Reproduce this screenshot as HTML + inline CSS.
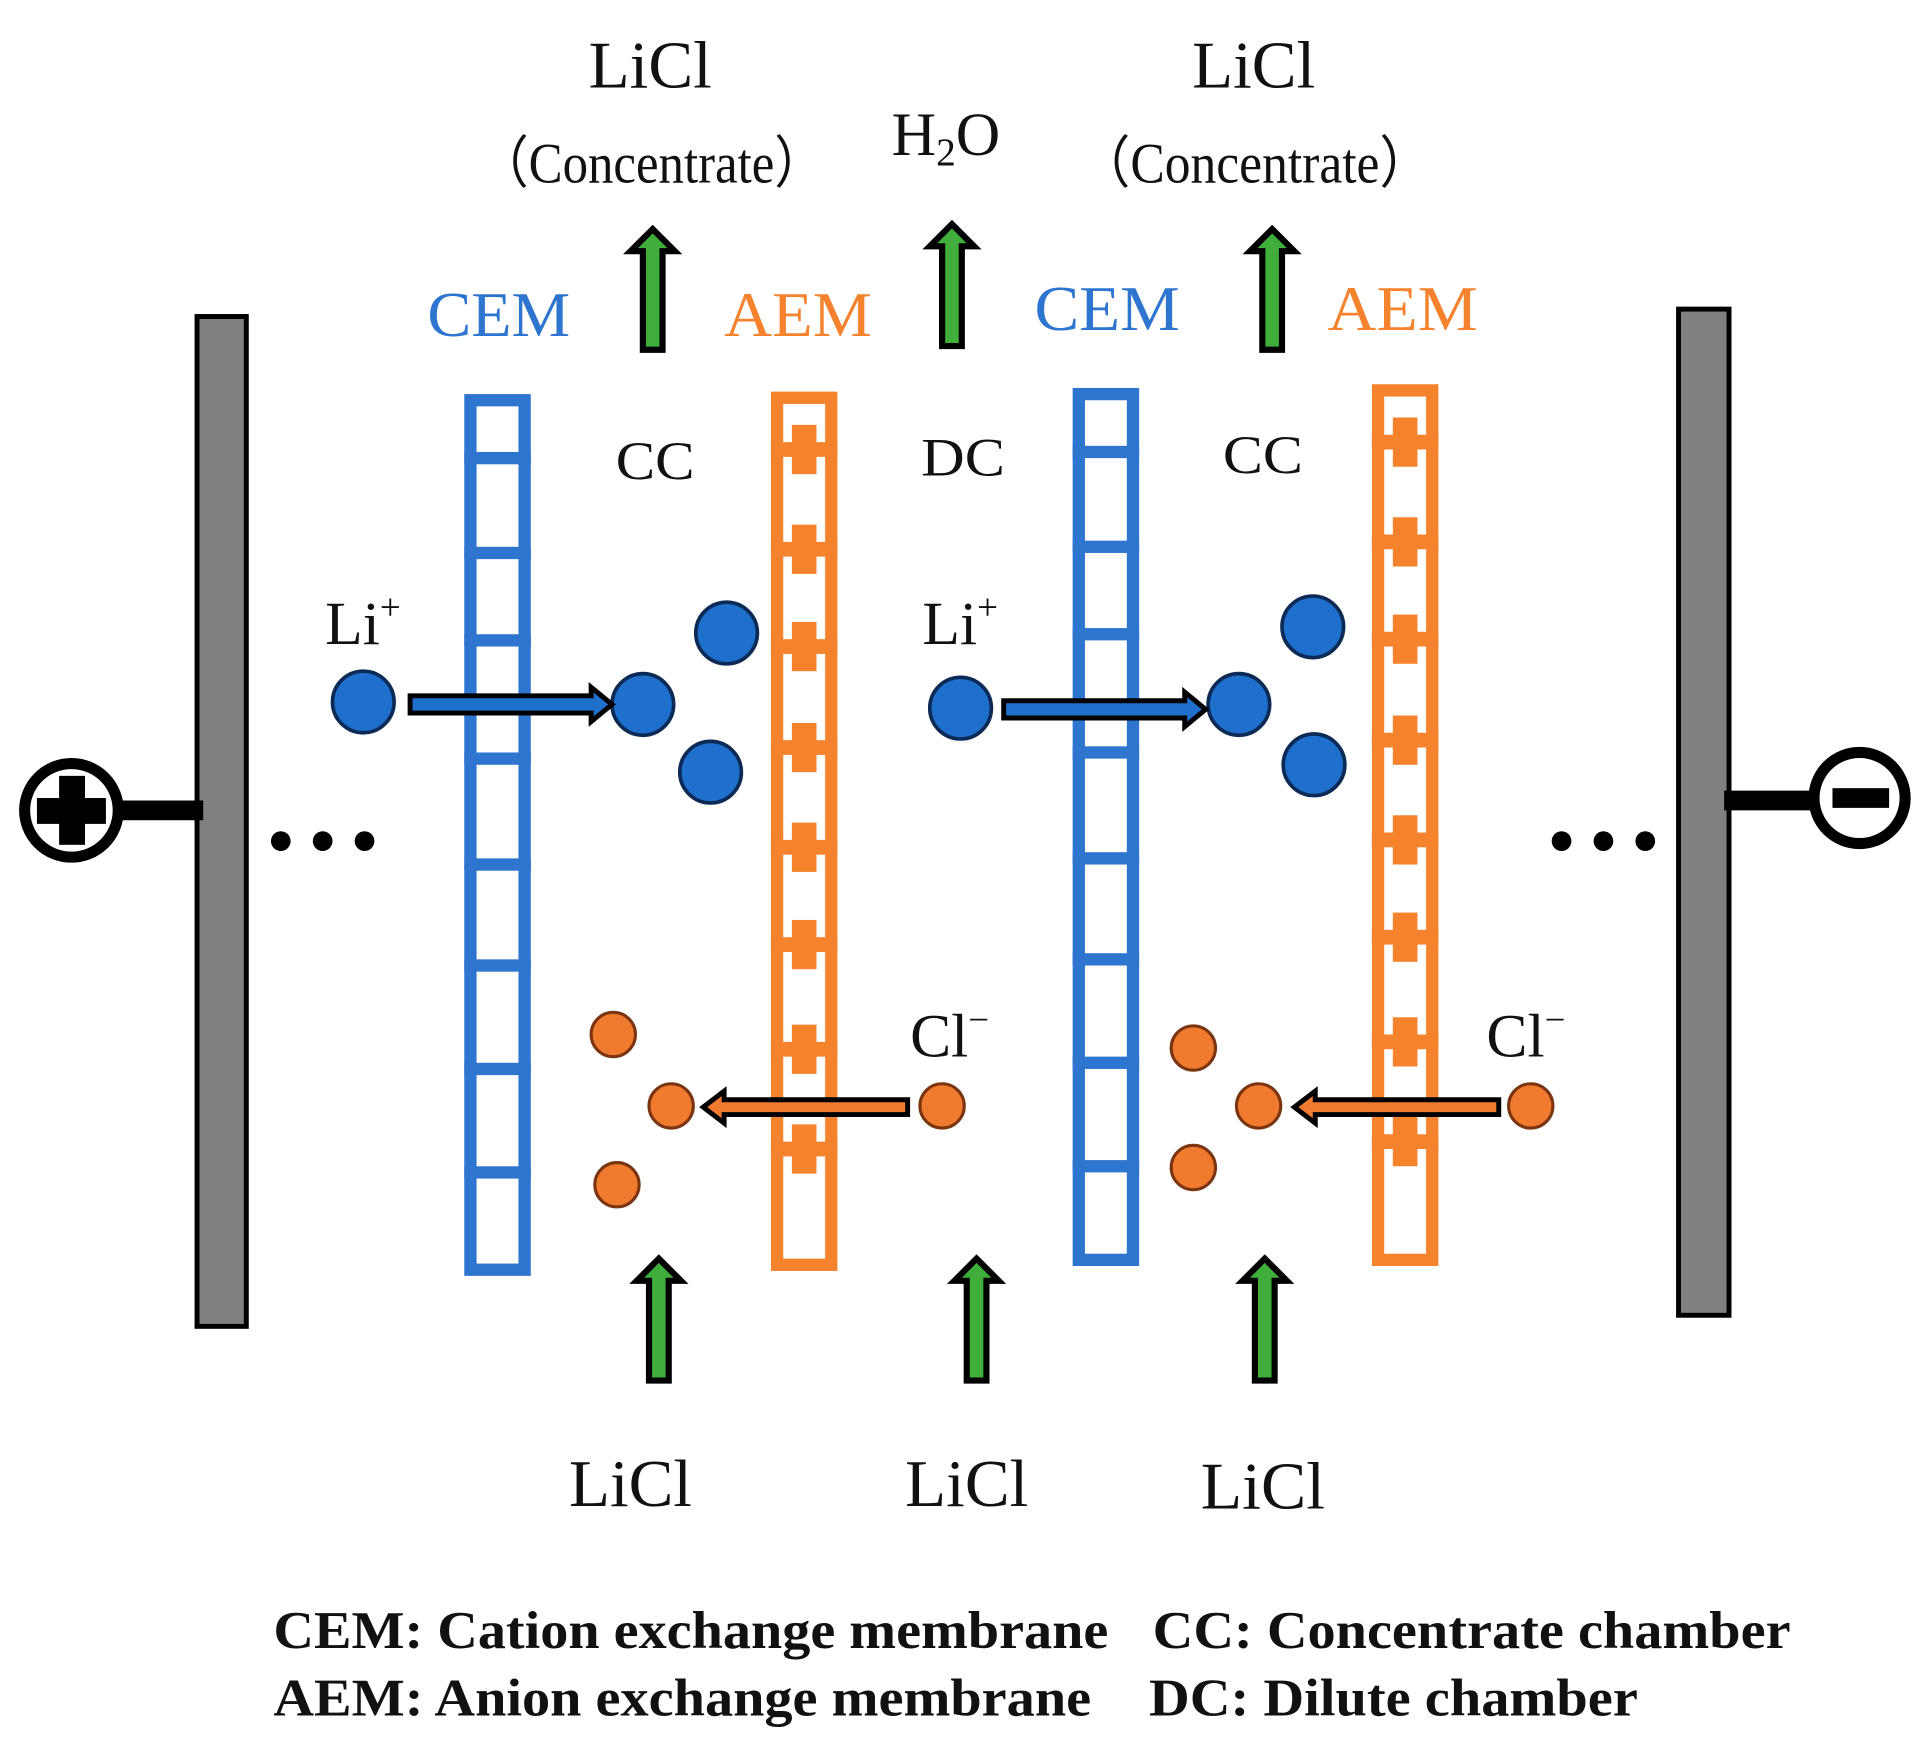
<!DOCTYPE html>
<html><head><meta charset="utf-8"><style>
html,body{margin:0;padding:0;background:#fff;}
svg{display:block;}
text{font-family:"Liberation Serif",serif;}
</style></head><body>
<svg id="s" width="1931" height="1750" viewBox="0 0 1568 1421" preserveAspectRatio="none" xmlns="http://www.w3.org/2000/svg">
<rect width="1568" height="1421" fill="#fff"/>
<!-- electrodes -->
<rect x="160" y="257" width="40" height="820" fill="#808080" stroke="#000" stroke-width="4"/>
<rect x="1363" y="251" width="41" height="817" fill="#808080" stroke="#000" stroke-width="4"/>
<line x1="98" y1="658" x2="165" y2="658" stroke="#000" stroke-width="16"/>
<circle cx="58" cy="658" r="38" fill="#fff" stroke="#000" stroke-width="9"/>
<rect x="30" y="648" width="56" height="21" fill="#000"/><rect x="48" y="630" width="21" height="56" fill="#000"/>
<line x1="1400" y1="650" x2="1474" y2="650" stroke="#000" stroke-width="16"/>
<circle cx="1510" cy="648" r="37" fill="#fff" stroke="#000" stroke-width="9"/>
<rect x="1488" y="640" width="46" height="16" fill="#000"/>
<g fill="#000"><circle cx="228" cy="683" r="8"/><circle cx="262" cy="683" r="8"/><circle cx="296" cy="683" r="8"/>
<circle cx="1268" cy="683" r="8"/><circle cx="1302" cy="683" r="8"/><circle cx="1336" cy="683" r="8"/></g>
<g id="mem"></g>
<g id="arr"></g>
<!-- Li+ ions -->
<g fill="#1f6fcc" stroke="#0b2a55" stroke-width="3">
<circle cx="295" cy="570" r="25"/><circle cx="590" cy="514" r="25"/><circle cx="522" cy="572" r="25"/><circle cx="577" cy="627" r="25"/>
<circle cx="780" cy="575" r="25"/><circle cx="1066" cy="509" r="25"/><circle cx="1006" cy="572" r="25"/><circle cx="1067" cy="621" r="25"/>
</g>
<g fill="#1f6fcc" stroke="#000" stroke-width="4">
<polygon points="333,565 480,565 480,558 497,572 480,586 480,579 333,579"/>
<polygon points="815,569 962,569 962,562 979,576 962,590 962,583 815,583"/>
</g>
<!-- Cl- ions -->
<g fill="#f07a2e" stroke="#7a3510" stroke-width="2.5">
<circle cx="498" cy="840" r="18"/><circle cx="545" cy="898" r="18"/><circle cx="501" cy="962" r="18"/><circle cx="765" cy="898" r="18"/>
<circle cx="969" cy="851" r="18"/><circle cx="1022" cy="898" r="18"/><circle cx="969" cy="948" r="18"/><circle cx="1243" cy="898" r="18"/>
</g>
<g fill="#f07a2e" stroke="#000" stroke-width="4">
<polygon points="737,893 588,893 588,886 571,899 588,912 588,905 737,905"/>
<polygon points="1217,893 1068,893 1068,886 1051,899 1068,912 1068,905 1217,905"/>
</g>
<!-- texts -->
<g font-size="54" fill="#111" lengthAdjust="spacingAndGlyphs">
<text x="478" y="71" textLength="100" lengthAdjust="spacingAndGlyphs">LiCl</text>
<text x="968" y="71" textLength="100" lengthAdjust="spacingAndGlyphs">LiCl</text>
<text x="462" y="1223" textLength="100" lengthAdjust="spacingAndGlyphs">LiCl</text>
<text x="735" y="1223" textLength="100" lengthAdjust="spacingAndGlyphs">LiCl</text>
<text x="975" y="1225" textLength="101" lengthAdjust="spacingAndGlyphs">LiCl</text>
</g>
<text x="724" y="126" font-size="50" fill="#111">H<tspan font-size="32" dy="8">2</tspan><tspan dy="-8">O</tspan></text>
<g font-size="46" fill="#111">
<text x="388" y="148" textLength="282" lengthAdjust="spacingAndGlyphs" font-family="'Liberation Serif','Noto Serif CJK SC',serif">（Concentrate）</text>
<text x="876" y="148" textLength="286" lengthAdjust="spacingAndGlyphs" font-family="'Liberation Serif','Noto Serif CJK SC',serif">（Concentrate）</text>
</g>
<g font-size="44" fill="#111">
<text x="500" y="389" textLength="64" lengthAdjust="spacingAndGlyphs">CC</text>
<text x="748" y="386" textLength="68" lengthAdjust="spacingAndGlyphs">DC</text>
<text x="993" y="384" textLength="65" lengthAdjust="spacingAndGlyphs">CC</text>
</g>
<g font-size="52">
<text x="347" y="273" fill="#2e75d0" textLength="116" lengthAdjust="spacingAndGlyphs">CEM</text>
<text x="588" y="273" fill="#f5832e" textLength="120" lengthAdjust="spacingAndGlyphs">AEM</text>
<text x="840" y="268" fill="#2e75d0" textLength="118" lengthAdjust="spacingAndGlyphs">CEM</text>
<text x="1078" y="268" fill="#f5832e" textLength="122" lengthAdjust="spacingAndGlyphs">AEM</text>
</g>
<g font-size="50" fill="#111">
<text x="264" y="523">Li<tspan font-size="30" dy="-20">+</tspan></text>
<text x="749" y="523">Li<tspan font-size="30" dy="-20">+</tspan></text>
<text x="739" y="858">Cl<tspan font-size="30" dy="-20">−</tspan></text>
<text x="1207" y="858">Cl<tspan font-size="30" dy="-20">−</tspan></text>
</g>
<g font-size="43" font-weight="bold" fill="#111">
<text x="222" y="1338" textLength="678" lengthAdjust="spacingAndGlyphs">CEM: Cation exchange membrane</text>
<text x="936" y="1338" textLength="518" lengthAdjust="spacingAndGlyphs">CC: Concentrate chamber</text>
<text x="222" y="1393" textLength="664" lengthAdjust="spacingAndGlyphs">AEM: Anion exchange membrane</text>
<text x="933" y="1393" textLength="397" lengthAdjust="spacingAndGlyphs">DC: Dilute chamber</text>
</g>
</svg>
<script>
var ns="http://www.w3.org/2000/svg",m=document.getElementById("mem"),a=document.getElementById("arr");
function el(p,t,at){var e=document.createElementNS(ns,t);for(var k in at)e.setAttribute(k,at[k]);p.appendChild(e);return e;}
var cd=[52,129,200,296,382,464,548,632];
var ad=[47,128,207,289,370,449,534,615];
function cem(x,y1,y2){var c="#2e75d0";el(m,"rect",{x:x+5,y:y1+5,width:44,height:y2-y1-10,fill:"none",stroke:c,"stroke-width":10});
 cd.forEach(function(d){el(m,"rect",{x:x,y:y1+d-5,width:54,height:10,fill:c});});}
function aem(x,y1,y2){var c="#f5832e";el(m,"rect",{x:x+5,y:y1+5,width:44,height:y2-y1-10,fill:"none",stroke:c,"stroke-width":10});
 ad.forEach(function(d){var yy=y1+d;el(m,"rect",{x:x,y:yy-6,width:54,height:12,fill:c});el(m,"rect",{x:x+17,y:yy-20,width:20,height:40,fill:c});});}
cem(377,320,1036);aem(626,318,1032);cem(871,315,1028);aem(1114,312,1028);
function up(x,y1,y2){el(a,"polygon",{points:[x-8,y2,x-8,y1+18,x-18,y1+18,x,y1,x+18,y1+18,x+8,y1+18,x+8,y2].join(" "),fill:"#3fae3a",stroke:"#000","stroke-width":5,"stroke-linejoin":"miter"});}
up(530,186,284);up(773,182,281);up(1033,186,284);up(535,1022,1121);up(793,1022,1121);up(1027,1022,1121);
</script>
</body></html>
